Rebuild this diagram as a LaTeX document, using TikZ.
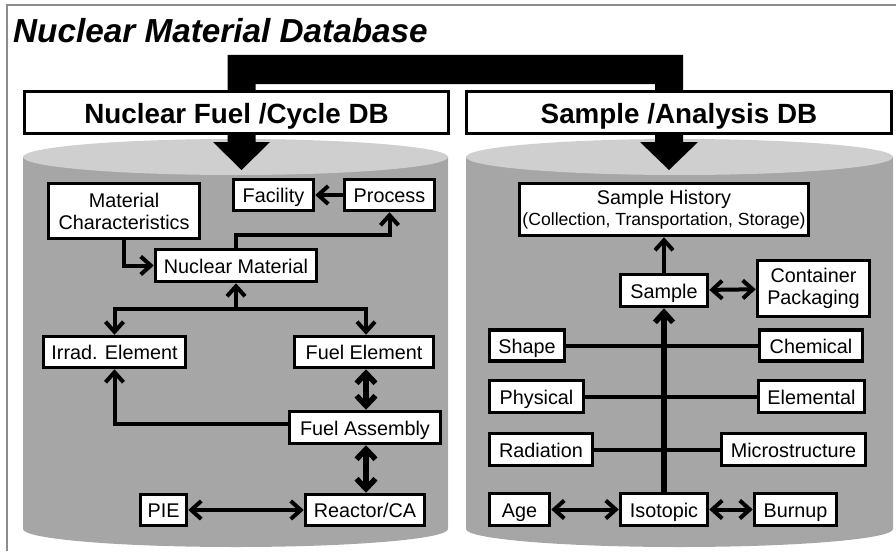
\documentclass[tikz,border=0pt]{standalone}
\usepackage{fontspec}
\setmainfont{Liberation Sans}
\usetikzlibrary{arrows.meta}
\definecolor{cylbody}{HTML}{A6A6A6}
\definecolor{cyltop}{HTML}{CFCFCF}
\definecolor{framegray}{HTML}{8C8C8C}
\begin{document}
\begin{tikzpicture}[x=1pt,y=-1pt,
  boxm/.style={draw=black, line width=3.5pt, fill=white, inner sep=0pt, align=center,
    font=\fontsize{19.8}{22}\selectfont, minimum height=31pt},
  box/.style={boxm, text height=17pt, text depth=2pt},
  hdr/.style={draw=black, line width=3pt, fill=white, inner sep=0pt,
    font=\bfseries\fontsize{27.8}{30}\selectfont, minimum height=42pt, text height=23pt, text depth=2pt},
  conn/.style={line width=4pt},
  connb/.style={line width=5.5pt},
  tip/.style={-{Straight Barb[length=10pt,width=18pt]}},
  tips/.style={{Straight Barb[length=10pt,width=18pt]}-{Straight Barb[length=10pt,width=18pt]}},
  tipsb/.style={{Straight Barb[length=10pt,width=19pt]}-{Straight Barb[length=10pt,width=19pt]}}
]
\useasboundingbox (0,0) rectangle (896,551);
% frame
\draw[framegray, line width=2pt] (7,551) -- (7,5) -- (896,5);
% title
\node[anchor=base west, inner sep=0pt, font=\bfseries\itshape\fontsize{33.3}{36}\selectfont] (title) at (13,43) {Nuclear Material Database};
% thick link between the two databases
\fill[black] (227.5,90) -- (227.5,55) -- (683,55) -- (683,90) -- (655,90) -- (655,84) -- (255.5,84) -- (255.5,90) -- cycle;
% cylinders
\fill[cylbody] (23,157) -- (23,529) arc[start angle=180, end angle=360, x radius=212.5, y radius=-18] -- (448,157) -- cycle;
\fill[cyltop] (235.5,157) ellipse[x radius=212.5, y radius=18];
\fill[cylbody] (466,157) -- (466,529) arc[start angle=180, end angle=360, x radius=213.5, y radius=-18] -- (893,157) -- cycle;
\fill[cyltop] (679.5,157) ellipse[x radius=213.5, y radius=18];
% header boxes
\node[hdr, minimum width=424pt] (hdrL) at (236.5,112.5) {Nuclear Fuel /Cycle DB};
\node[hdr, minimum width=425pt] (hdrR) at (679,112.5) {Sample /Analysis DB};
% big down arrows
\fill[black] (227.5,134) -- (255.5,134) -- (255.5,142) -- (270,142) -- (241.5,170) -- (213,142) -- (227.5,142) -- cycle;
\fill[black] (655,134) -- (683,134) -- (683,142) -- (698,142) -- (669,170) -- (640,142) -- (655,142) -- cycle;
% left nodes
\node[box, minimum width=80pt] (facility) at (273.5,195) {Facility};
\node[box, minimum width=90pt] (process) at (389.5,195) {Process};
\node[boxm, minimum width=151pt, minimum height=55pt] (matchar) at (124,211) {Material\\Characteristics};
\node[box, minimum width=161pt, minimum height=32pt] (nucmat) at (236,265.5) {Nuclear Material};
\node[box, minimum width=142pt] (irrad) at (114.5,352) {Irrad. Element};
\node[box, minimum width=139pt] (fuelel) at (364,352) {Fuel Element};
\node[box, minimum width=151pt, minimum height=32pt] (fuelas) at (365,427.5) {Fuel Assembly};
\node[box, minimum width=46pt] (pie) at (163.5,510) {PIE};
\node[box, minimum width=119pt] (reactor) at (365,510) {Reactor/CA};
% right nodes
\node[boxm, minimum width=289pt, minimum height=52pt] (hist) at (664,209.5) {Sample History\\[-1pt]{\fontsize{17.6}{19}\selectfont (Collection, Transportation, Storage)}};
\node[box, minimum width=87pt, minimum height=32pt] (sample) at (664,290.5) {Sample};
\node[boxm, minimum width=112pt, minimum height=56pt] (container) at (813.5,288.5) {Container\\Packaging};
\node[box, minimum width=75pt] (shape) at (527,345.5) {Shape};
\node[box, minimum width=103pt] (chemical) at (811,345.5) {Chemical};
\node[box, minimum width=94pt, minimum height=32pt] (physical) at (536.5,396.5) {Physical};
\node[box, minimum width=106pt, minimum height=32pt] (elemental) at (811.5,396.5) {Elemental};
\node[box, minimum width=103pt, minimum height=32pt] (radiation) at (541,449.5) {Radiation};
\node[box, minimum width=144pt, minimum height=32pt] (micro) at (793.5,449.5) {Microstructure};
\node[box, minimum width=60pt, minimum height=32pt] (age) at (519.5,509.5) {Age};
\node[box, minimum width=87pt, minimum height=32pt] (isotopic) at (664,509.5) {Isotopic};
\node[box, minimum width=82pt, minimum height=32pt] (burnup) at (795.5,509.5) {Burnup};
% left connectors
\draw[conn, tip] (process) -- (facility);
\draw[conn, tip] (matchar.south) |- (nucmat.west);
\draw[conn, tip] (nucmat.north) -- ++(0,-13) -| (process.south);
\coordinate (jn) at (236,309);
\draw[conn, tip] (jn) -- (nucmat.south);
\draw[conn, tip] (jn) -| (irrad.north);
\draw[conn, tip] (jn) -| ([xshift=2pt]fuelel.north);
\draw[connb, tipsb] ([xshift=2pt]fuelel.south) -- ([xshift=2pt]fuelel.south |- fuelas.north);
\draw[conn, tip] ([yshift=4pt]fuelas.west) -| (irrad.south);
\draw[connb, tipsb] ([xshift=1pt]fuelas.south) -- ([xshift=1pt]fuelas.south |- reactor.north);
\draw[conn, tips] (pie) -- (reactor);
% right connectors
\draw[conn] (shape) -- (chemical);
\draw[conn] (physical) -- (elemental);
\draw[conn] (radiation) -- (micro);
\draw[connb, tip] (isotopic.north) -- (sample.south);
\draw[conn, tip] (sample.north) -- (hist.south);
\draw[conn, tips] (sample) -- (container);
\draw[conn, tips] (age) -- (isotopic);
\draw[conn, tips] (isotopic) -- (burnup);
\end{tikzpicture}
\end{document}
